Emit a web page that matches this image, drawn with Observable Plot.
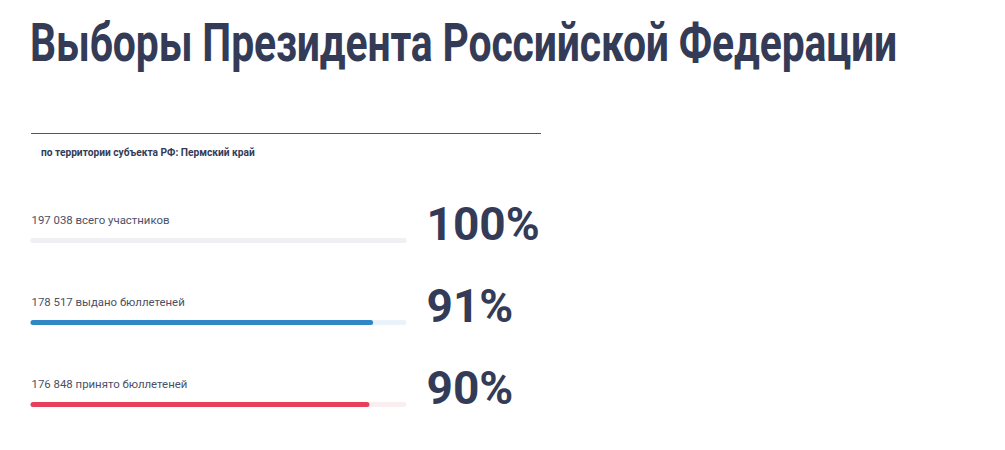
<!DOCTYPE html>
<html>
<head>
<meta charset="utf-8">
<script src="https://cdn.jsdelivr.net/npm/d3@7"></script>
<script src="https://cdn.jsdelivr.net/npm/@observablehq/plot@0.6"></script>
<style>
  html, body { margin: 0; padding: 0; background: #fff; }
  body { width: 1005px; height: 450px; position: relative; overflow: hidden; font-family: Roboto, "Noto Sans", sans-serif; color: #343b57; }
  #title { position: absolute; left: 30px; top: 17px; font-size: 53px; font-weight: 700; line-height: 1; white-space: nowrap; transform-origin: 0 0; letter-spacing: -0.2px; }
  #rule { position: absolute; left: 31px; top: 133px; width: 510px; height: 0; border-top: 1.5px solid #50566c; }
  #subtitle { position: absolute; left: 41px; top: 147px; font-size: 10.2px; font-weight: 700; color: #343b57; white-space: nowrap; }
  #chart { position: absolute; left: 0; top: 170px; }
</style>
</head>
<body>
<div id="title">Выборы Президента Российской Федерации</div>
<div id="rule"></div>
<div id="subtitle">по территории субъекта РФ: Пермский край</div>
<div id="chart"></div>
<script>
// Turnout figures for the region
const categories = ["всего участников", "выдано бюллетеней", "принято бюллетеней"];
const counts = [197038, 178517, 176848];
const percents = [100, 91, 90];

const fillColors = ["#eef0f3", "#2f88c5", "#e8405a"];
const trackColors = ["#f0f1f4", "#e9f3f9", "#fbeef0"];

const fmt = n => String(n).replace(/\B(?=(\d{3})+(?!\d))/g, " ");

const rows = categories.map((c, i) => ({
  category: c,
  count: counts[i],
  percent: percents[i],
  label: `${fmt(counts[i])} ${c}`,
  fill: fillColors[i],
  track: trackColors[i]
}));

const chart = Plot.plot({
  width: 1005,
  height: 280,
  marginLeft: 33,
  marginRight: 601,
  marginTop: 69.5,
  marginBottom: 45.5,
  x: { domain: [0, 100], axis: null },
  y: { type: "point", domain: categories, padding: 0, axis: null },
  style: { fontFamily: "Roboto, 'Noto Sans', sans-serif", background: "#fff" },
  marks: [
    // background track
    Plot.ruleY(rows, { y: "category", x1: 0, x2: 100, stroke: "track", strokeWidth: 5, strokeLinecap: "round" }),
    // value bar
    Plot.ruleY(rows, { y: "category", x1: 0, x2: "percent", stroke: "fill", strokeWidth: 5, strokeLinecap: "round" }),
    // count + caption above each bar
    Plot.text(rows, { y: "category", x: 0, text: "label", textAnchor: "start", dx: -2, dy: -20, fontSize: 11.4, fill: "#4b5066" }),
    // big percentage
    Plot.text(rows, { y: "category", x: 100, text: d => `${d.percent}%`, textAnchor: "start", dx: 22, dy: -15, fontSize: 46, fontWeight: 700, fill: "#343b57" })
  ]
});
document.getElementById("chart").append(chart);

// condensed headline: squeeze to the target width
const t = document.getElementById("title");
const w = t.getBoundingClientRect().width;
t.style.transform = `scaleX(${867 / w})`;
</script>
</body>
</html>
